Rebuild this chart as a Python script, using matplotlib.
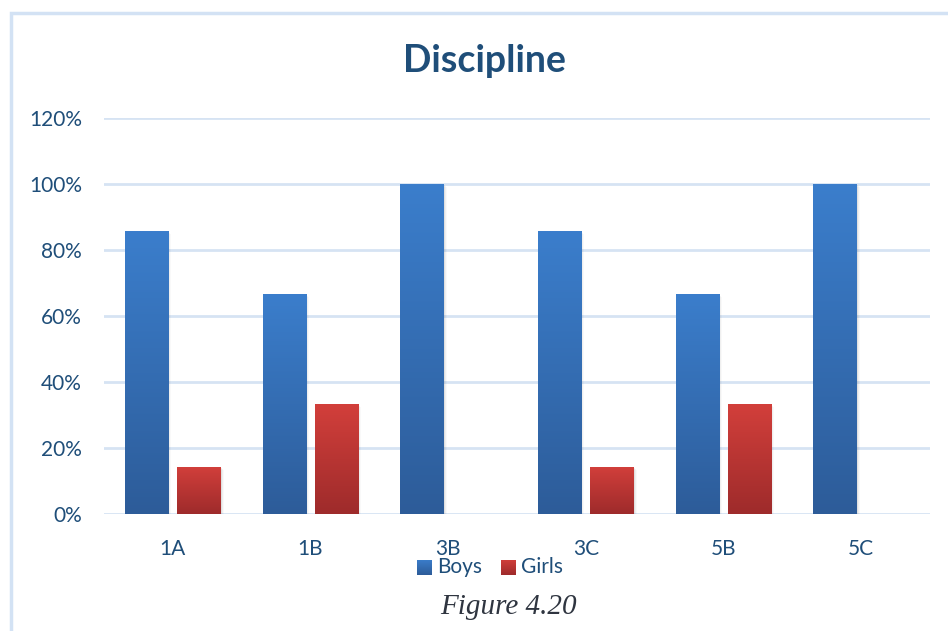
import matplotlib.pyplot as plt
import numpy as np
from matplotlib.patches import Rectangle
from matplotlib.colors import LinearSegmentedColormap

# Data
classes = ['1A', '1B', '3B', '3C', '5B', '5C']
boys = [85.7, 66.7, 100.0, 85.7, 66.7, 100.0]
girls = [14.3, 33.3, 0.0, 14.3, 33.3, 0.0]
yticks = [0, 20, 40, 60, 80, 100, 120]

text_col = '#1F4E79'
grid_col = '#D6E3F3'
blue_cmap = LinearSegmentedColormap.from_list('blue', ['#2D5C99', '#3B7ECC'])
red_cmap = LinearSegmentedColormap.from_list('red', ['#9E2B2B', '#D23F3B'])

plt.rcParams['font.family'] = ['Lato', 'DejaVu Sans']

fig = plt.figure(figsize=(9.48, 6.31), dpi=100)
W, H = 948, 631

# outer chart border (runs off the right and bottom edges)
fig.patches.append(Rectangle((11 / W, -0.05), 1.2, 1 - 13 / H + 0.05,
                             transform=fig.transFigure, fill=False,
                             edgecolor='#D3E2F4', lw=2.5))

ax = fig.add_axes([104 / W, 1 - 514 / H, (930 - 104) / W, (514 - 118) / H])
ax.set_xlim(-0.5, len(classes) - 0.5)
ax.set_ylim(0, 120)

x = np.arange(len(classes))
bw = 0.315
offset = 0.19


def gradient_bar(xc, h, cmap):
    """Draws a bar with a vertical gradient and a soft shadow."""
    if h <= 0:
        return
    for i, a in enumerate([0.06, 0.04, 0.025]):
        d = 0.012 * (i + 1)
        ax.add_patch(Rectangle((xc - bw / 2 + d * 0.6, -0.5), bw, h + 0.5 - d * 25,
                               facecolor='black', alpha=a, lw=0, zorder=2))
    rect = Rectangle((xc - bw / 2, 0), bw, h, facecolor='none', lw=0, zorder=3)
    ax.add_patch(rect)
    grad = np.linspace(0, 1, 256).reshape(-1, 1)
    im = ax.imshow(grad, cmap=cmap, origin='lower', aspect='auto',
                   extent=(xc - bw / 2, xc + bw / 2, 0, h), zorder=3)
    im.set_clip_path(rect)


for xi, b, g in zip(x, boys, girls):
    gradient_bar(xi - offset, b, blue_cmap)
    gradient_bar(xi + offset, g, red_cmap)

ax.set_xlim(-0.5, len(classes) - 0.5)
ax.set_ylim(0, 120)

for t in yticks:
    ax.axhline(t, color=grid_col, lw=2, zorder=1)

for s in ax.spines.values():
    s.set_visible(False)
ax.set_yticks(yticks)
ax.set_yticklabels([f'{t}%' for t in yticks])
ax.set_xticks(x)
ax.set_xticklabels(classes)
ax.tick_params(length=0, labelsize=15, labelcolor=text_col)
ax.tick_params(axis='y', pad=16)
ax.tick_params(axis='x', pad=18)

fig.text(484 / W, 1 - 61 / H, 'Discipline', ha='center', va='center',
         fontsize=27, fontweight='bold', color=text_col)

# legend
for lx, label, cmap in [(417, 'Boys', blue_cmap), (501, 'Girls', red_cmap)]:
    lax = fig.add_axes([lx / W, 1 - 575 / H, 15 / W, 15 / H])
    lax.imshow(np.linspace(0, 1, 64).reshape(-1, 1), cmap=cmap, origin='lower',
               aspect='auto')
    lax.axis('off')
    fig.text((lx + 20) / W, 1 - 567 / H, label, ha='left', va='center',
             fontsize=15, color=text_col)

fig.text(508 / W, 1 - 607 / H, 'Figure 4.20', ha='center', va='center',
         fontsize=21, style='italic', family='Liberation Serif', color='#2F3540')

fig.savefig('out.png', dpi=100)
